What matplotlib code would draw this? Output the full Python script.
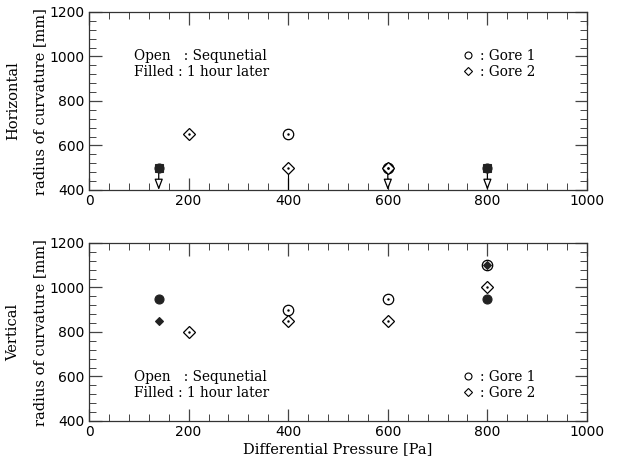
import matplotlib
matplotlib.use("Agg")
import matplotlib.pyplot as plt
from matplotlib.ticker import MultipleLocator

# ---- data ----
# Horizontal radius of curvature
h_g1_open_x = [400, 600]
h_g1_open_y = [650, 500]
h_g2_open_x = [200, 400, 600]
h_g2_open_y = [650, 500, 500]
h_g1_fill_x = [140, 800]
h_g1_fill_y = [500, 500]
h_g2_fill_x = [140, 800]
h_g2_fill_y = [500, 500]
h_limit_x = [140, 600, 800]      # upper limits (arrows)
h_limit_y = [500, 500, 500]
h_stem_x = [400]
h_stem_y = [500]

# Vertical radius of curvature
v_g1_open_x = [400, 600, 800]
v_g1_open_y = [900, 950, 1100]
v_g2_open_x = [200, 400, 600, 800]
v_g2_open_y = [800, 850, 850, 1000]
v_g1_fill_x = [140, 800]
v_g1_fill_y = [950, 950]
v_g2_fill_x = [140, 800]
v_g2_fill_y = [850, 1100]

xticks = [0, 200, 400, 600, 800, 1000]
yticks = [400, 600, 800, 1000, 1200]

SERIF = "DejaVu Serif"
SANS = "DejaVu Sans"
TXT = 9.8
LAB = 10.5

fig = plt.figure(figsize=(6.19, 4.66), dpi=100)
ax1 = fig.add_axes([0.1438, 0.5923, 0.8045, 0.382])
ax2 = fig.add_axes([0.1438, 0.0966, 0.8045, 0.382])

def style(ax):
    ax.set_xlim(0, 1000)
    ax.set_ylim(400, 1200)
    ax.set_xticks(xticks)
    ax.set_yticks(yticks)
    ax.xaxis.set_minor_locator(MultipleLocator(40))
    ax.yaxis.set_minor_locator(MultipleLocator(40))
    ax.tick_params(which="both", direction="in", top=True, right=True,
                   color="#444444", labelsize=10)
    ax.tick_params(which="major", length=9, width=0.9, pad=3)
    ax.tick_params(which="minor", length=5, width=0.7)
    for lab in ax.get_xticklabels() + ax.get_yticklabels():
        lab.set_family(SANS)
    for s in ax.spines.values():
        s.set_linewidth(0.9)
        s.set_color("#333333")

def open_pts(ax, x, y, marker, ms):
    ax.plot(x, y, linestyle="none", marker=marker, ms=ms, mfc="white",
            mec="black", mew=0.9, zorder=3)
    ax.plot(x, y, linestyle="none", marker=".", ms=1.5, color="black", zorder=4)

def fill_pts(ax, x, y, marker, ms):
    ax.plot(x, y, linestyle="none", marker=marker, ms=ms, mfc="#222222",
            mec="#222222", mew=0.8, zorder=5)

def legend_block(ax, y1, y2):
    ax.text(90, y1, "Open   : Sequnetial", family=SERIF, fontsize=TXT, va="center")
    ax.text(90, y2, "Filled : 1 hour later", family=SERIF, fontsize=TXT, va="center")
    ax.plot([762], [y1 + 5], marker="o", ms=5, mfc="white", mec="black", mew=0.8,
            linestyle="none")
    ax.plot([762], [y2 + 5], marker="D", ms=4, mfc="white", mec="black", mew=0.8,
            linestyle="none")
    ax.text(785, y1, ": Gore 1", family=SERIF, fontsize=TXT, va="center")
    ax.text(785, y2, ": Gore 2", family=SERIF, fontsize=TXT, va="center")

style(ax1)
style(ax2)

# top panel
for x, y in zip(h_limit_x, h_limit_y):
    ax1.annotate("", xy=(x, 400), xytext=(x, y),
                 arrowprops=dict(arrowstyle="-|>,head_length=0.65,head_width=0.25",
                                 fc="white", ec="black", lw=0.9,
                                 shrinkA=0, shrinkB=0), zorder=2)
for x, y in zip(h_stem_x, h_stem_y):
    ax1.plot([x, x], [400, y], color="black", lw=0.8, zorder=2)
open_pts(ax1, h_g1_open_x, h_g1_open_y, "o", 7.5)
open_pts(ax1, h_g2_open_x, h_g2_open_y, "D", 6)
fill_pts(ax1, h_g1_fill_x, h_g1_fill_y, "o", 6.5)
fill_pts(ax1, h_g2_fill_x, h_g2_fill_y, "s", 5.5)
legend_block(ax1, 1000, 930)

# bottom panel
open_pts(ax2, v_g1_open_x, v_g1_open_y, "o", 7.5)
open_pts(ax2, v_g2_open_x, v_g2_open_y, "D", 6)
fill_pts(ax2, v_g1_fill_x, v_g1_fill_y, "o", 6.5)
fill_pts(ax2, v_g2_fill_x, v_g2_fill_y, "D", 4.5)
legend_block(ax2, 598, 526)
ax2.set_xlabel("Differential Pressure [Pa]", family=SERIF, fontsize=LAB, labelpad=2)

# y labels (two lines each)
fig.text(0.021, 0.783, "Horizontal", rotation=90, family=SERIF, fontsize=LAB,
         ha="center", va="center")
fig.text(0.065, 0.783, "radius of curvature [mm]", rotation=90, family=SERIF,
         fontsize=LAB, ha="center", va="center")
fig.text(0.021, 0.287, "Vertical", rotation=90, family=SERIF, fontsize=LAB,
         ha="center", va="center")
fig.text(0.065, 0.287, "radius of curvature [mm]", rotation=90, family=SERIF,
         fontsize=LAB, ha="center", va="center")

fig.savefig("out.png", dpi=100)
